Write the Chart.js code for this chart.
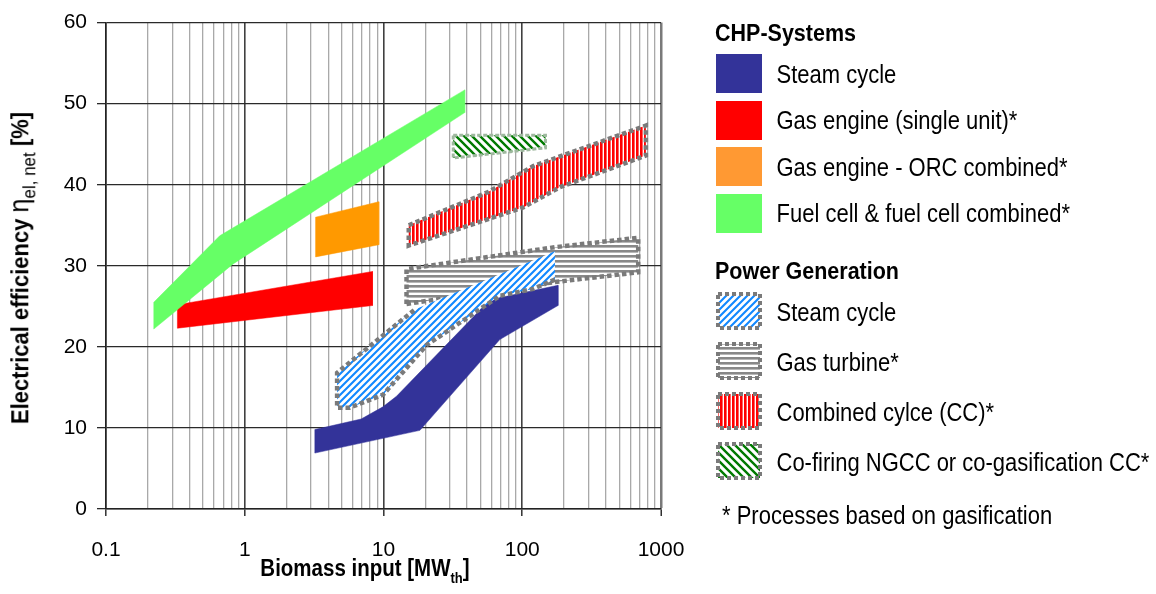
<!DOCTYPE html>
<html>
<head>
<meta charset="utf-8">
<title>Electrical efficiency of biomass conversion systems</title>
<script src="https://cdn.jsdelivr.net/npm/chart.js@4.4.1/dist/chart.umd.min.js"></script>
<style>
  html, body { margin: 0; padding: 0; background: #fff; }
  #stage { position: relative; width: 1156px; height: 594px; overflow: hidden;
           font-family: "Liberation Sans", Arial, Helvetica, sans-serif; color: #000; }
  #plot { position: absolute; left: 0; top: 0; }
  .txt { position: absolute; white-space: nowrap; line-height: 1; transform: scaleY(1.15); transform-origin: 0 50%; }
  .head { font-weight: bold; font-size: 21.5px; }
  .item { font-size: 22px; }
  .sw { position: absolute; }
  #ytitle { position: absolute; left: 22px; top: 268px; white-space: nowrap; line-height: 1;
            font-size: 22px; transform: translate(-50%, -50%) rotate(-90deg) scaleY(1.1); }
  #ytitle .eta { font-size: 25px; }
  #ytitle .sub { font-size: 17px; vertical-align: -6px; }
  #xtitle { position: absolute; left: 365px; top: 571px; white-space: nowrap; line-height: 1;
            font-size: 20.5px; font-weight: bold; transform: translate(-50%, -50%) scaleY(1.15); }
  #xtitle .sub { font-size: 13px; vertical-align: -6px; }
</style>
</head>
<body>
<div id="stage">
  <canvas id="plot" width="1156" height="594"></canvas>
  <div id="ytitle"><b>Electrical efficiency</b> <span class="eta">η</span><span class="sub">el, net</span> <b>[%]</b></div>
  <div id="xtitle">Biomass input [MW<span class="sub">th</span>]</div>
  <div id="legend"></div>
</div>
<script>
// Outlines of each technology band: biomass input [MW_th] vs. net electrical efficiency [%]
// CHP systems
const chpSteamX   = [3.2, 6.9, 9.9, 12.4, 58.4, 181, 181, 68.9, 18.3, 3.2];
const chpSteamY   = [9.8, 11.1, 12.6, 13.9, 25.8, 27.6, 25.1, 20.9, 9.7, 6.9];
const gasEngineX  = [0.327, 8.33, 8.33, 0.327];
const gasEngineY  = [25.2, 29.3, 25.1, 22.3];
const orcX        = [3.24, 9.25, 9.25, 3.24];
const orcY        = [36.0, 37.9, 32.6, 31.1];
const fuelCellX   = [0.221, 0.66, 38.5, 38.5, 0.82, 0.221];
const fuelCellY   = [25.5, 33.7, 51.7, 48.9, 30.2, 22.2];
// Power generation
const pgSteamX    = [16.8, 172, 172, 120, 68.9, 20.4, 9.93, 5.71, 4.63, 4.63];
const pgSteamY    = [24.6, 31.8, 28.3, 27.15, 26.3, 20.2, 14.1, 12.5, 12.5, 16.8];
const gasTurbineX = [14.65, 14.65, 172, 685, 685, 172];
const gasTurbineY = [25.3, 29.6, 32.3, 33.45, 29.2, 28.0];
const combinedX   = [15.2, 56.8, 120, 778, 778, 187, 101.5, 15.2];
const combinedY   = [35.0, 39.1, 42.3, 47.3, 43.6, 39.7, 37.2, 32.5];
const coFiringX   = [31.8, 147, 147, 31.8];
const coFiringY   = [46.1, 46.1, 44.55, 43.3];

// Axis ticks
const xTickLabels = ['0.1', '1', '10', '100', '1000'];
const yTickValues = [0, 10, 20, 30, 40, 50, 60];

// Legend texts
const chpTitle = 'CHP-Systems';
const chpLabels = ['Steam cycle', 'Gas engine (single unit)*', 'Gas engine - ORC combined*', 'Fuel cell & fuel cell combined*'];
const pgTitle = 'Power Generation';
const pgLabels = ['Steam cycle', 'Gas turbine*', 'Combined cylce (CC)*', 'Co-firing NGCC or co-gasification CC*'];
const footnote = '* Processes based on gasification';

// ---------------------------------------------------------------------------
const FONT = '"Liberation Sans", Arial, Helvetica, sans-serif';
const NAVY = '#333399', RED = '#ff0000', ORANGE = '#ff9900', ORANGE_KEY = '#ff9933', GREEN = '#66ff66';
const DOT_GREY = '#7a7a7a';

// hatch patterns (opaque white background with coloured strokes)
function makeTile(w, h, paint) {
  const c = document.createElement('canvas');
  c.width = w; c.height = h;
  const g = c.getContext('2d');
  g.fillStyle = '#fff'; g.fillRect(0, 0, w, h);
  paint(g, w, h);
  return c;
}
const tiles = {
  blue: makeTile(7, 7, (g, s) => {
    g.strokeStyle = '#1188ff'; g.lineWidth = 2.1; g.beginPath();
    g.moveTo(0, s); g.lineTo(s, 0);
    g.moveTo(-s / 2, s / 2); g.lineTo(s / 2, -s / 2);
    g.moveTo(s / 2, s * 1.5); g.lineTo(s * 1.5, s / 2);
    g.stroke();
  }),
  green: makeTile(8, 8, (g, s) => {
    g.strokeStyle = '#007a00'; g.lineWidth = 2.4; g.beginPath();
    g.moveTo(0, 0); g.lineTo(s, s);
    g.moveTo(-s / 2, s / 2); g.lineTo(s / 2, s * 1.5);
    g.moveTo(s / 2, -s / 2); g.lineTo(s * 1.5, s / 2);
    g.stroke();
  }),
  red: makeTile(4, 4, (g, w, h) => { g.fillStyle = RED; g.fillRect(0, 0, 2.6, h); }),
  grey: makeTile(5, 5, (g, w, h) => { g.fillStyle = '#888888'; g.fillRect(0, 0, w, 2.6); })
};
const patternOn = (ctx, name) => ctx.createPattern(tiles[name], 'repeat');

const plotCanvas = document.getElementById('plot');
const pctx = plotCanvas.getContext('2d');

const pts = (xs, ys) => xs.map((x, i) => ({ x, y: ys[i] }));
const closed = (xs, ys) => { const p = pts(xs, ys); p.push({ ...p[0] }); return p; };

function solidBand(label, xs, ys, color) {
  return { label, data: closed(xs, ys), fill: 'shape', backgroundColor: color,
           borderColor: color, borderWidth: 0.5 };
}
function hatchBand(label, xs, ys, pattern, outline) {
  return Object.assign({ label, data: closed(xs, ys), fill: 'shape', backgroundColor: pattern }, outline);
}
const dotted = { borderColor: DOT_GREY, borderWidth: 4.5, borderDash: [4.5, 3], borderCapStyle: 'butt', borderJoinStyle: 'miter' };
const noLine = { borderColor: 'rgba(0,0,0,0)', borderWidth: 0.01 };

// dotted edge of the power-generation steam cycle band (its upper part lies inside the gas-turbine band)
const pgSteamEdge = (() => { const p = pts(pgSteamX, pgSteamY); return p.slice(2).concat([p[0]]); })();

// first dataset is painted last (on top)
const datasets = [
  hatchBand('Co-firing NGCC or co-gasification CC*', coFiringX, coFiringY, patternOn(pctx, 'green'),
            { borderColor: '#9fb89f', borderWidth: 3, borderDash: [4, 2] }),
  hatchBand('Combined cylce (CC)*', combinedX, combinedY, patternOn(pctx, 'red'), dotted),
  Object.assign({ label: 'Steam cycle (power) edge', data: pgSteamEdge, fill: false }, dotted),
  hatchBand('Steam cycle (power)', pgSteamX, pgSteamY, patternOn(pctx, 'blue'), noLine),
  hatchBand('Gas turbine*', gasTurbineX, gasTurbineY, patternOn(pctx, 'grey'), dotted),
  solidBand('Fuel cell & fuel cell combined*', fuelCellX, fuelCellY, GREEN),
  solidBand('Gas engine - ORC combined*', orcX, orcY, ORANGE),
  solidBand('Gas engine (single unit)*', gasEngineX, gasEngineY, RED),
  solidBand('Steam cycle (CHP)', chpSteamX, chpSteamY, NAVY)
];

// vertical grid at 1..9 x every decade
const decades = xTickLabels.map(Number);
const xGridValues = [];
decades.slice(0, -1).forEach(d => { for (let m = 1; m <= 9; m++) xGridValues.push(Number((m * d).toPrecision(3))); });
xGridValues.push(decades[decades.length - 1]);
const isDecade = v => decades.some(d => Math.abs(v / d - 1) < 1e-6);
const decadeLabel = v => { const i = decades.findIndex(d => Math.abs(v / d - 1) < 1e-6); return i >= 0 ? xTickLabels[i] : ''; };
const xMax = decades[decades.length - 1];

new Chart(pctx, {
  type: 'line',
  data: { datasets },
  options: {
    responsive: false,
    animation: false,
    devicePixelRatio: 1,
    events: [],
    layout: { padding: { left: 0, top: 17, right: 495, bottom: 0 } },
    elements: { point: { radius: 0, hoverRadius: 0 }, line: { tension: 0 } },
    plugins: { legend: { display: false }, tooltip: { enabled: false }, title: { display: false } },
    scales: {
      x: {
        type: 'logarithmic', min: decades[0], max: xMax,
        afterBuildTicks: s => { s.ticks = xGridValues.map(v => ({ value: v })); },
        afterFit: s => { s.height = 85; },
        ticks: { autoSkip: false, maxRotation: 0, minRotation: 0, padding: 22, color: '#000',
                 font: { family: FONT, size: 21 }, callback: v => decadeLabel(v) },
        grid: {
          color: c => { const v = c.tick.value; if (Math.abs(v / xMax - 1) < 1e-6) return '#7a7a7a'; return isDecade(v) ? '#404040' : '#a9a9a9'; },
          lineWidth: c => { const v = c.tick.value; if (Math.abs(v / xMax - 1) < 1e-6) return 2.5; return isDecade(v) ? 1.6 : 1.3; },
          tickLength: 7,
          tickColor: c => isDecade(c.tick.value) ? '#303030' : 'rgba(0,0,0,0)',
          tickWidth: 1.5
        },
        border: { display: true, color: '#222', width: 1.5 }
      },
      y: {
        min: yTickValues[0], max: yTickValues[yTickValues.length - 1],
        afterBuildTicks: s => { s.ticks = yTickValues.map(v => ({ value: v })); },
        afterFit: s => { s.width = 106; },
        ticks: { padding: 10, color: '#000', font: { family: FONT, size: 21 } },
        grid: { color: '#2a2a2a', lineWidth: 1.3, tickLength: 9, tickColor: '#2a2a2a', tickWidth: 1.3 },
        border: { display: true, color: '#222', width: 1.5 }
      }
    }
  }
});

// ---------------------------------------------------------------------------
// Legend (two groups)
const legend = document.getElementById('legend');
function addText(str, cls, left, centerY, size) {
  const d = document.createElement('div');
  d.className = 'txt ' + cls;
  d.textContent = str;
  d.style.left = left + 'px';
  d.style.top = (centerY - size / 2) + 'px';
  legend.appendChild(d);
}
function addSolidSwatch(left, top, w, h, color) {
  const d = document.createElement('div');
  d.className = 'sw';
  Object.assign(d.style, { left: left + 'px', top: top + 'px', width: w + 'px', height: h + 'px', background: color });
  legend.appendChild(d);
}
function addHatchSwatch(left, top, w, h, tileName) {
  const c = document.createElement('canvas');
  c.className = 'sw';
  c.width = w; c.height = h;
  c.style.left = left + 'px'; c.style.top = top + 'px';
  const g = c.getContext('2d');
  g.fillStyle = patternOn(g, tileName);
  g.fillRect(2, 2, w - 4, h - 4);
  g.strokeStyle = DOT_GREY; g.lineWidth = 4; g.setLineDash([4, 3]);
  g.strokeRect(2, 2, w - 4, h - 4);
  legend.appendChild(c);
}

const KEY_X = 716, KEY_W = 46, LABEL_X = 776.5;
const chpColors = [NAVY, RED, ORANGE_KEY, GREEN];
addText(chpTitle, 'head', 715, 33.3, 21.5);
chpLabels.forEach((t, i) => {
  const top = 54 + i * 46.5;
  addSolidSwatch(KEY_X, top, KEY_W, 39, chpColors[i]);
  addText(t, 'item', LABEL_X, top + 20.7, 22);
});
const pgTiles = ['blue', 'grey', 'red', 'green'];
addText(pgTitle, 'head', 715, 271.7, 21.5);
pgLabels.forEach((t, i) => {
  const top = 291.7 + i * 50.1;
  addHatchSwatch(KEY_X, top, KEY_W, 38, pgTiles[i]);
  addText(t, 'item', LABEL_X, top + 20.8, 22);
});
addText(footnote, 'item', 722, 515.8, 22);
</script>
</body>
</html>
